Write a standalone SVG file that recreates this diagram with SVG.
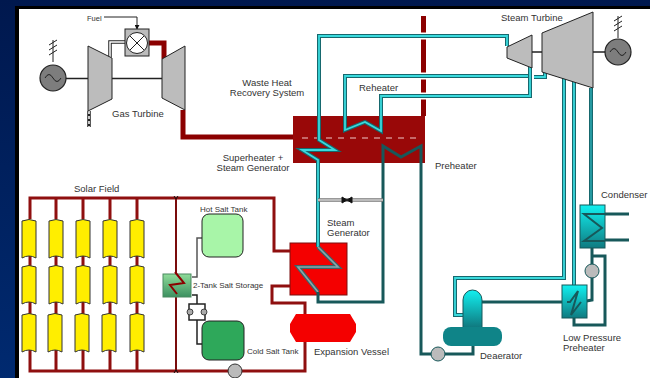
<svg xmlns="http://www.w3.org/2000/svg" xmlns:xlink="http://www.w3.org/1999/xlink" width="650" height="378" viewBox="0 0 650 378">
<style>
text{font-family:"Liberation Sans",Arial,sans-serif;font-size:9.5px;fill:#333}
.s{font-size:8px}
.m{text-anchor:middle}
#connectors{fill:none}
.red{stroke:#8f0f0f;stroke-width:3}
.ex{stroke:#8b0000;stroke-width:5}
.halo{stroke:#fff;stroke-width:7}
.to{stroke:#16686e;stroke-width:4}
.ti{stroke:#3adadd;stroke-width:1.800}
.dk{stroke:#17585a;stroke-width:3}
.blk{stroke:#222;stroke-width:1.500}
.grey{fill:#bcbcbc;stroke:#222;stroke-width:1}
.coll{fill:#ffee00;stroke:#333;stroke-width:1}
.gen{fill:#7d7d7d;stroke:#222;stroke-width:1.200}
.wave{fill:none;stroke:#222;stroke-width:1}
.nof{fill:none}
</style>
<defs>
<linearGradient id="bg" x1="0" y1="0" x2="0" y2="1"><stop offset="0" stop-color="#00184e"/><stop offset="1" stop-color="#002a70"/></linearGradient>
<linearGradient id="cy" x1="0" y1="0" x2="0" y2="1"><stop offset="0" stop-color="#12f0f0"/><stop offset="1" stop-color="#0f7a80"/></linearGradient>
<linearGradient id="gr" x1="0" y1="0" x2="0" y2="1"><stop offset="0" stop-color="#8fdc9a"/><stop offset="1" stop-color="#3c9060"/></linearGradient>
<marker id="ah" viewBox="0 0 6 6" refX="5" refY="3" markerWidth="5" markerHeight="5" orient="auto"><path d="M0 0L6 3L0 6Z" fill="#111"/></marker>
<path id="collector" d="M-7 -17Q0 -20 7 -17V20Q0 16 -7 20Z"/>
<path id="hatch" fill="none" d="M0 0V22M-4 5L4 0M-4 10L4 5M-4 15L4 10"/>
<path id="pipeA" d="M507 46V36H319V140L335 150H302L318 160V247"/>
<path id="pipeA2" d="M318 247L338 267H298L318 292"/>
<path id="pipeB" d="M528 76H345V130L365 122L381 131V96H530V67"/>
<path id="pipeC" d="M534 77H545V70"/>
<path id="pipeD" d="M564 78V278H455V315H463"/>
<path id="pipeE" d="M574 82V287"/>
<path id="pipeF" d="M591 88V206"/>
</defs>

<rect width="650" height="378" fill="url(#bg)"/>
<rect x="15" y="6" width="635" height="372" fill="#000"/>
<rect x="19" y="9" width="631" height="369" fill="#fff"/>

<g id="hrsg"><rect x="293" y="116" width="132" height="47" fill="#990808"/><path d="M302 138H417" stroke="#f0c8c8" stroke-width="1" stroke-dasharray="6 6"/></g>
<g id="stack"><path d="M423.500 16V116" stroke="#8b0000" stroke-width="5"/></g>
<g id="steam-generator"><rect x="290" y="243" width="57" height="52" fill="#f40000" stroke="#7a1010" stroke-width="1"/></g>

<g id="connectors">
<path class="blk" d="M66 78.500H88M112 78.500H162M532 52H542M593 52H606"/>
<path d="M104 17H137V29" stroke="#222" stroke-width="1" marker-end="url(#ah)"/>
<path d="M110 57V42H125" stroke="#222" stroke-width="3.500"/>
<path d="M110 57V42H125" stroke="#fff" stroke-width="1.500"/>
<path d="M89 111V127" stroke="#222" stroke-width="3.500"/>
<path d="M89 111V127" stroke="#fff" stroke-width="1.500" stroke-dasharray="3 2"/>
<path class="ex" d="M149 43H164V59"/>
<path class="ex" d="M183 110V137H293"/>

<path class="red" d="M30 219V198H274V251H290"/>
<path class="red" d="M30 350V371H305V303H272V286H290"/>
<path class="red" d="M56 198V219M83 198V219M110 198V219M137 198V219M30 255V268M56 255V268M83 255V268M110 255V268M137 255V268M30 301V315M56 301V315M83 301V315M110 301V315M137 301V315M56 350V371M83 350V371M110 350V371M137 350V371"/>
<path d="M176 198V371" stroke="#7a0c0c" stroke-width="2"/>
<path d="M174 196L176 199L178 196M174 373L176 370L178 373" stroke="#111" stroke-width="1"/>
<path d="M192 277H197V238H202" stroke="#555" stroke-width="1.500"/>
<path d="M192 295H197V304M197 320V344H202" stroke="#222" stroke-width="1.500"/>
<path d="M197 304H189V320H205V304H197" stroke="#222" stroke-width="1.500"/>

<path class="halo" d="M345 76H528M381 96H530M319 36H507"/>
<use xlink:href="#pipeA" class="to"/><use xlink:href="#pipeB" class="to"/><use xlink:href="#pipeC" class="to"/>
<use xlink:href="#pipeD" class="to"/><use xlink:href="#pipeE" class="to"/><use xlink:href="#pipeF" class="to"/>
<use xlink:href="#pipeA" class="ti"/><use xlink:href="#pipeB" class="ti"/><use xlink:href="#pipeC" class="ti"/>
<use xlink:href="#pipeD" class="ti"/><use xlink:href="#pipeE" class="ti"/>
<use xlink:href="#pipeF" stroke="#28a0a8" stroke-width="1.800"/>
<use xlink:href="#pipeA2" stroke="#3a6468" stroke-width="4"/>
<use xlink:href="#pipeA2" stroke="#8aa8aa" stroke-width="1.600"/>

<path class="dk" d="M318 292V302H383V146L401 157L421 146V354H473V346"/>
<path d="M318 200H383" stroke="#777" stroke-width="3.500"/>
<path d="M318 200H383" stroke="#fff" stroke-width="1.200"/>
<path d="M342 197L352 203V197L342 203Z" fill="#111" stroke="#111" stroke-width="1"/>
<path class="dk" d="M482 302H570"/>
<path class="dk" d="M592 248V300L581 302"/>
<path class="dk" d="M574 318V325H605V256H592"/>
<path class="dk" d="M605 214H629M605 240H629"/>
</g>

<g id="generator-left"><use xlink:href="#hatch" x="53" y="40" stroke="#222" stroke-width="1"/><circle class="gen" cx="53" cy="78" r="13"/><path class="wave" d="M45 78Q49 71 53 78T61 78"/></g>
<g id="compressor"><path class="grey" d="M88 46L112 58V99L88 111Z"/></g>
<g id="gas-turbine"><path class="grey" d="M162 59L185 46V110L162 98Z"/></g>
<g id="combustor"><rect class="grey" x="125" y="29" width="24" height="27"/><circle cx="137" cy="43" r="10.500" fill="#fff" stroke="#222" stroke-width="1"/><path d="M130 36L144 50M144 36L130 50" stroke="#222" stroke-width="1"/></g>

<g id="hp-turbine"><path class="grey" d="M507 47L532 35V68L507 58Z"/></g>
<g id="lp-turbine"><path class="grey" d="M542 33L593 12V88L542 72Z"/></g>
<g id="generator-right"><use xlink:href="#hatch" x="618" y="16" stroke="#222" stroke-width="1"/><circle class="gen" cx="618" cy="52" r="13"/><path class="wave" d="M610 52Q614 45 618 52T626 52"/></g>

<g id="solar-field">
<use xlink:href="#collector" class="coll" x="29" y="238"/><use xlink:href="#collector" class="coll" x="56" y="238"/><use xlink:href="#collector" class="coll" x="83" y="238"/><use xlink:href="#collector" class="coll" x="110" y="238"/><use xlink:href="#collector" class="coll" x="137" y="238"/>
<use xlink:href="#collector" class="coll" x="29" y="284"/><use xlink:href="#collector" class="coll" x="56" y="284"/><use xlink:href="#collector" class="coll" x="83" y="284"/><use xlink:href="#collector" class="coll" x="110" y="284"/><use xlink:href="#collector" class="coll" x="137" y="284"/>
<use xlink:href="#collector" class="coll" x="29" y="332"/><use xlink:href="#collector" class="coll" x="55" y="332"/><use xlink:href="#collector" class="coll" x="82" y="332"/><use xlink:href="#collector" class="coll" x="109" y="332"/><use xlink:href="#collector" class="coll" x="137" y="332"/>
</g>

<g id="salt-exchanger"><rect x="163" y="274" width="28" height="23" fill="url(#gr)" stroke="#4a8a60" stroke-width="1"/><path class="nof" d="M175 272L184 283L170 285L177 294" stroke="#8b0000" stroke-width="2"/></g>
<g id="hot-tank"><rect x="202" y="214" width="41" height="43" rx="7" fill="#a8f5a8" stroke="#222" stroke-width="1"/></g>
<g id="cold-tank"><rect x="202" y="321" width="42" height="39" rx="7" fill="#2ea85a" stroke="#222" stroke-width="1"/></g>
<g id="salt-valves"><circle cx="190" cy="312" r="3" fill="#aaa" stroke="#222" stroke-width=".8"/><circle cx="204" cy="312" r="3" fill="#aaa" stroke="#222" stroke-width=".8"/></g>
<g id="solar-pump"><circle cx="235" cy="371" r="7" fill="#bbb" stroke="#333" stroke-width="1"/></g>
<g id="expansion-vessel"><path d="M296 314H350L356 324V332L350 342H296L290 332V324Z" fill="#f40000"/></g>

<g id="condenser"><rect x="580" y="205" width="25" height="43" fill="url(#cy)" stroke="#17585a" stroke-width="1"/><path class="nof" d="M605 214H584L602 228L584 241H605" stroke="#17585a" stroke-width="2"/></g>
<g id="lp-preheater"><rect x="562" y="285" width="25" height="33" fill="url(#cy)" stroke="#17585a" stroke-width="1"/><path class="nof" d="M567 302H570L578 291L571 315L581 302" stroke="#17585a" stroke-width="2"/></g>
<g id="deaerator"><path d="M463 327V300A9.500 10 0 0 1 482 300V327Z" fill="url(#cy)"/><rect x="443" y="327" width="59" height="19" rx="8" fill="#0f8488"/><path class="nof" d="M463 327V300A9.500 10 0 0 1 482 300V327" stroke="#17585a" stroke-width="1"/></g>
<g id="pump-condensate"><circle cx="592" cy="271" r="7" fill="#bbb" stroke="#17585a" stroke-width="1"/></g>
<g id="pump-feed"><circle cx="438" cy="354" r="7" fill="#bbb" stroke="#17585a" stroke-width="1"/></g>

<g id="labels">
<text x="87" y="21" style="font-size:7.500px">Fuel</text>
<text x="112" y="117">Gas Turbine</text>
<text class="m" x="267" y="86">Waste Heat</text>
<text class="m" x="267" y="96">Recovery System</text>
<text class="m" x="253" y="161">Superheater +</text>
<text class="m" x="253" y="171">Steam Generator</text>
<text x="74" y="192">Solar Field</text>
<text class="s" x="200" y="212">Hot Salt Tank</text>
<text class="s" x="193" y="288">2-Tank Salt Storage</text>
<text class="s" x="247" y="354">Cold Salt Tank</text>
<text x="314" y="355">Expansion Vessel</text>
<text x="327" y="226">Steam</text>
<text x="327" y="236">Generator</text>
<text x="359" y="91">Reheater</text>
<text x="435" y="169">Preheater</text>
<text x="501" y="21">Steam Turbine</text>
<text x="601" y="198">Condenser</text>
<text x="563" y="341">Low Pressure</text>
<text x="563" y="351">Preheater</text>
<text x="480" y="359">Deaerator</text>
</g>
</svg>
